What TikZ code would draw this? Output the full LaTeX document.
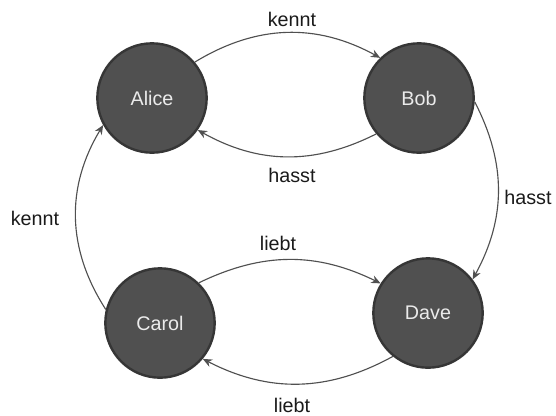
\documentclass[tikz,border=0pt]{standalone}
\usepackage{fontspec}
\setmainfont{Liberation Sans}
\usetikzlibrary{arrows.meta}
\definecolor{nodefill}{HTML}{505050}
\definecolor{nodeline}{HTML}{363636}
\definecolor{edgecol}{HTML}{505050}
\definecolor{labcol}{HTML}{1A1A1A}
\begin{document}
\begin{tikzpicture}[x=0.75pt,y=-0.75pt,
  person/.style={circle,fill=nodefill,draw=nodeline,line width=1.8pt,minimum size=82pt,inner sep=0pt,text=white!92!black,font=\fontsize{14.8}{16}\selectfont},
  rel/.style={draw=edgecol,line width=0.85pt,-{Stealth[length=7pt,width=6pt]}},
  lab/.style={text=labcol,font=\fontsize{14.8}{16}\selectfont,inner sep=0pt}]
\useasboundingbox (0,0) rectangle (556,415);
\node[person] (A) at (152,98) {Alice};
\node[person] (B) at (419,98) {Bob};
\node[person] (C) at (160,323) {Carol};
\node[person] (D) at (428,313) {Dave};
\draw[rel] (A.40) to[bend left=30] (B.134);
\draw[rel] (B.220) to[bend left=28] (A.325);
\draw[rel] (B.356) to[bend left=28] (D.37);
\draw[rel] (C.166) to[bend left=32] (A.209);
\draw[rel] (C.46) to[bend left=26] (D.148);
\draw[rel] (D.231) to[bend left=28] (C.320);
\node[lab] (l1) at (292,19) {kennt};
\node[lab] (l2) at (292,175) {hasst};
\node[lab] (l3) at (528,197) {hasst};
\node[lab] (l4) at (35,218) {kennt};
\node[lab] (l5) at (278,243) {liebt};
\node[lab] (l6) at (292,405) {liebt};
\end{tikzpicture}
\end{document}
